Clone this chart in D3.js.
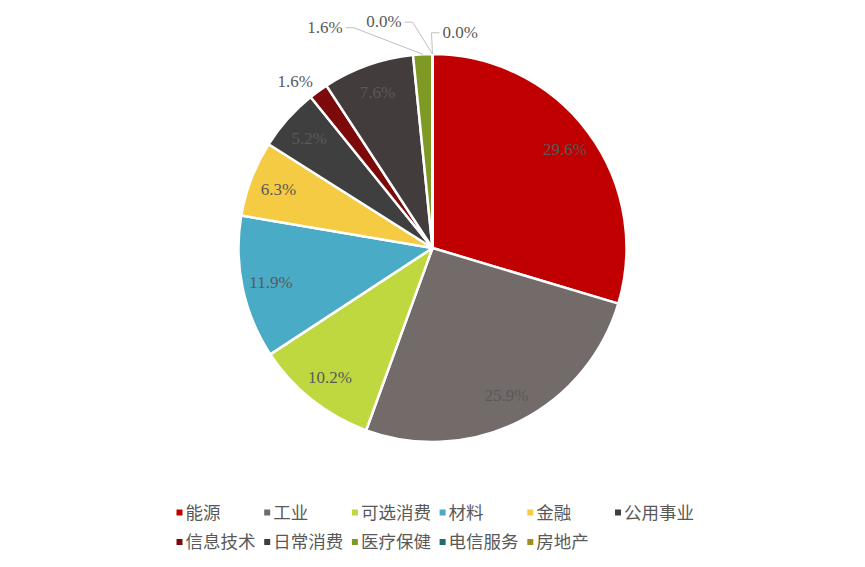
<!DOCTYPE html>
<html>
<head>
<meta charset="utf-8">
<script src="https://cdn.jsdelivr.net/npm/d3@7"></script>
<style>
  body { margin: 0; background: #fff; }
  svg { display: block; }
</style>
</head>
<body>
<div id="chart"></div>
<script>
// sector weights (%), clockwise from 12 o'clock
var categories = ["能源", "工业", "可选消费", "材料", "金融", "公用事业", "信息技术", "日常消费", "医疗保健", "电信服务", "房地产"]
var values = [29.6, 25.9, 10.2, 11.9, 6.3, 5.2, 1.6, 7.6, 1.6, 0.0, 0.0]
var colors = ["#c00000", "#736a6a", "#bfd840", "#4aabc6", "#f4cb42", "#3f3f3f", "#7c0a0a", "#433c3c", "#7f9a24", "#1e6b73", "#a08c24"]

// small slices get their label outside (angle in degrees, radius in px)
var outsideLabels = {
    "信息技术": { angle: 320.5, r: 216, leader: false },
    "医疗保健": { angle: 334.1, r: 246, leader: true },
    "电信服务": { angle: 347.9, r: 232, leader: true },
    "房地产": { angle: 7.3, r: 218, leader: true }
}

var width = 865, height = 567
var cx = 432.5, cy = 248, R = 194
var labelR = 165

var svg = d3.select("#chart").append("svg").attr("width", width).attr("height", height)
var g = svg.append("g").attr("transform", `translate(${cx},${cy})`)

var data = categories.map(function (c, i) { return { name: c, value: values[i], color: colors[i] } })

var pie = d3.pie().sort(null).value(function (d) { return d.value })
var arcs = pie(data)
var arc = d3.arc().innerRadius(0).outerRadius(R)
var labelArc = d3.arc().innerRadius(labelR).outerRadius(labelR)

g.selectAll("path.slice").data(arcs).enter().append("path")
    .attr("class", "slice")
    .attr("d", arc)
    .attr("fill", function (d) { return d.data.color })
    .attr("stroke", "#fff")
    .attr("stroke-width", 2.5)
    .attr("stroke-linejoin", "round")

function fmt(v) { return v.toFixed(1) + "%" }

function polar(angleDeg, r) {
    var a = angleDeg * Math.PI / 180
    return [r * Math.sin(a), -r * Math.cos(a)]
}

// labels inside the bigger slices
g.selectAll("text.inside").data(arcs.filter(function (d) { return !outsideLabels[d.data.name] }))
    .enter().append("text")
    .attr("class", "inside")
    .attr("transform", function (d) { return `translate(${labelArc.centroid(d)})` })
    .attr("text-anchor", "middle")
    .attr("dy", "0.35em")
    .attr("font-family", "'Liberation Serif', 'Times New Roman', serif")
    .attr("font-size", 17)
    .attr("fill", "#595959")
    .text(function (d) { return fmt(d.data.value) })

// labels outside for the thin slices, with leader lines
arcs.filter(function (d) { return outsideLabels[d.data.name] }).forEach(function (d) {
    var o = outsideLabels[d.data.name]
    var p = polar(o.angle, o.r)
    var t = g.append("text")
        .attr("x", p[0]).attr("y", p[1])
        .attr("text-anchor", "middle")
        .attr("dy", "0.35em")
        .attr("font-family", "'Liberation Serif', 'Times New Roman', serif")
        .attr("font-size", 17)
        .attr("fill", "#595959")
        .text(fmt(d.data.value))
    if (!o.leader) return
    var w = t.node().getComputedTextLength()
    var mid = (d.startAngle + d.endAngle) / 2
    var start = [R * Math.sin(mid), -R * Math.cos(mid)]
    var side = p[0] < start[0] - 5 ? 1 : -1   // label sits left of the slice -> line leaves its right edge
    var edge = p[0] + side * w / 2
    var ly = p[1] + 1
    g.append("polyline")
        .attr("points", [start, [edge + side * 11, ly], [edge + side * 3, ly]].map(function (q) { return q.join(",") }).join(" "))
        .attr("fill", "none")
        .attr("stroke", "#bfbfbf")
        .attr("stroke-width", 1)
})

// legend, two rows in equal columns
var perRow = 6
var colX = d3.scaleLinear().domain([0, 1]).range([179.5, 267.2])
var rowY = d3.scaleLinear().domain([0, 1]).range([512.5, 542])

var legend = svg.append("g").selectAll("g").data(data).enter().append("g")
    .attr("transform", function (d, i) { return `translate(${colX(i % perRow)},${rowY(Math.floor(i / perRow))})` })

legend.append("rect")
    .attr("x", -3).attr("y", -3).attr("width", 6).attr("height", 6)
    .attr("fill", function (d) { return d.color })

legend.append("text")
    .attr("x", 6)
    .attr("dy", "0.36em")
    .attr("font-family", "'Noto Sans CJK SC', sans-serif")
    .attr("font-size", 17.5)
    .attr("fill", "#595959")
    .text(function (d) { return d.name })
</script>
</body>
</html>
